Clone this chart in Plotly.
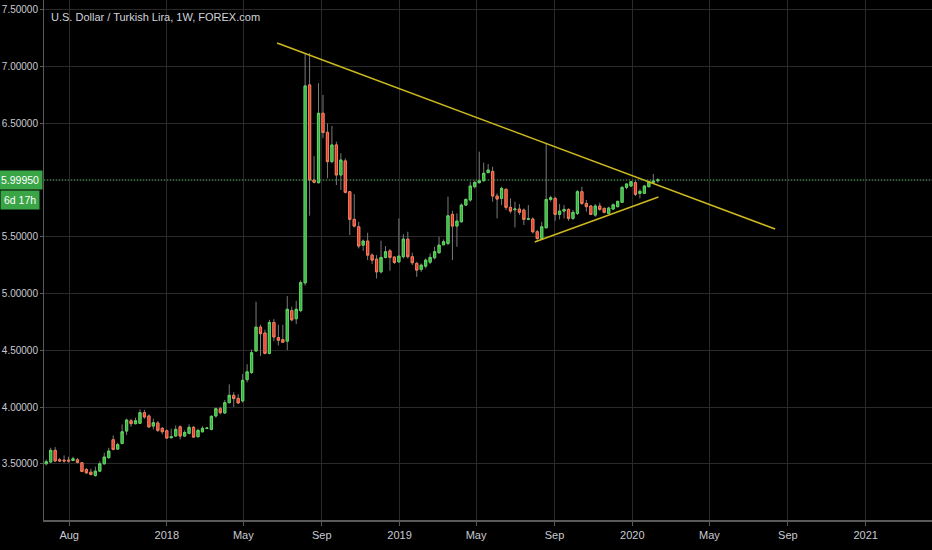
import plotly.graph_objects as go
import pandas as pd

title_text = "U.S. Dollar / Turkish Lira, 1W, FOREX.com"
first_week = "2017-06-26"

opens = [3.500, 3.515, 3.618, 3.535, 3.532, 3.532, 3.529, 3.535, 3.509, 3.450,
         3.426, 3.397, 3.435, 3.500, 3.553, 3.712, 3.629, 3.679, 3.788, 3.879,
         3.853, 3.856, 3.950, 3.921, 3.832, 3.859, 3.812, 3.791, 3.729, 3.744,
         3.826, 3.744, 3.768, 3.821, 3.738, 3.782, 3.812, 3.803, 3.921, 3.985,
         3.947, 4.038, 4.103, 4.076, 4.053, 4.241, 4.304, 4.493, 4.704, 4.652,
         4.472, 4.745, 4.612, 4.594, 4.580, 4.849, 4.777, 4.849, 5.093, 6.838,
         6.000, 5.976, 6.588, 6.420, 6.162, 6.309, 6.044, 6.168, 5.897, 5.653,
         5.588, 5.426, 5.462, 5.338, 5.303, 5.191, 5.318, 5.376, 5.321, 5.279,
         5.324, 5.479, 5.324, 5.265, 5.212, 5.241, 5.276, 5.315, 5.359, 5.429,
         5.441, 5.697, 5.594, 5.632, 5.779, 5.824, 5.941, 5.976, 5.994, 6.065,
         6.076, 5.859, 5.838, 5.918, 5.759, 5.738, 5.744, 5.735, 5.654, 5.656,
         5.544, 5.485, 5.579, 5.829, 5.838, 5.697, 5.726, 5.741, 5.662, 5.706,
         5.897, 5.794, 5.771, 5.691, 5.771, 5.750, 5.706, 5.744, 5.765, 5.803,
         5.935, 5.947, 5.976, 5.882, 5.882, 5.941, 5.979, 5.994]
highs = [3.538, 3.641, 3.647, 3.553, 3.574, 3.562, 3.562, 3.550, 3.515, 3.462,
         3.456, 3.474, 3.521, 3.597, 3.641, 3.750, 3.685, 3.847, 3.897, 3.897,
         3.906, 3.979, 3.974, 3.935, 3.897, 3.876, 3.824, 3.803, 3.809, 3.838,
         3.838, 3.794, 3.847, 3.832, 3.809, 3.832, 3.818, 3.926, 3.994, 4.003,
         4.062, 4.200, 4.130, 4.113, 4.290, 4.377, 4.507, 4.928, 4.725, 4.681,
         4.768, 4.774, 4.725, 4.725, 4.977, 4.884, 4.936, 5.116, 7.118, 7.118,
         6.210, 6.853, 6.750, 6.500, 6.476, 6.338, 6.235, 6.191, 5.897, 5.876,
         5.632, 5.476, 5.535, 5.353, 5.338, 5.465, 5.418, 5.391, 5.329, 5.662,
         5.524, 5.544, 5.359, 5.279, 5.265, 5.309, 5.353, 5.412, 5.500, 5.476,
         5.853, 5.729, 5.706, 5.794, 5.838, 5.985, 5.994, 6.250, 6.153, 6.141,
         6.118, 5.882, 5.941, 5.926, 5.838, 5.809, 5.788, 5.750, 5.779, 5.671,
         5.559, 5.632, 6.324, 5.862, 5.853, 5.788, 5.779, 5.750, 5.735, 5.912,
         5.941, 5.824, 5.779, 5.788, 5.800, 5.759, 5.765, 5.794, 5.818, 5.947,
         5.971, 5.991, 5.994, 5.918, 5.956, 5.994, 6.053, 6.015]
lows = [3.485, 3.509, 3.515, 3.515, 3.509, 3.509, 3.521, 3.503, 3.426, 3.412,
        3.397, 3.385, 3.426, 3.491, 3.547, 3.618, 3.621, 3.671, 3.753, 3.826,
        3.847, 3.850, 3.897, 3.818, 3.803, 3.779, 3.759, 3.721, 3.724, 3.738,
        3.715, 3.735, 3.759, 3.729, 3.732, 3.774, 3.803, 3.794, 3.906, 3.935,
        3.941, 4.032, 4.000, 4.030, 4.040, 4.217, 4.290, 4.493, 4.449, 4.464,
        4.464, 4.580, 4.542, 4.565, 4.501, 4.754, 4.730, 4.835, 5.070, 5.685,
        5.970, 5.970, 6.368, 6.015, 6.147, 5.956, 5.912, 5.882, 5.515, 5.582,
        5.397, 5.376, 5.294, 5.259, 5.132, 5.176, 5.309, 5.200, 5.259, 5.271,
        5.309, 5.309, 5.250, 5.147, 5.191, 5.221, 5.259, 5.300, 5.353, 5.426,
        5.426, 5.294, 5.412, 5.624, 5.771, 5.809, 5.926, 5.970, 5.985, 6.059,
        5.809, 5.662, 5.779, 5.735, 5.706, 5.582, 5.691, 5.603, 5.647, 5.529,
        5.456, 5.471, 5.574, 5.809, 5.641, 5.653, 5.662, 5.641, 5.647, 5.691,
        5.779, 5.721, 5.691, 5.676, 5.729, 5.706, 5.700, 5.735, 5.759, 5.800,
        5.918, 5.941, 5.859, 5.838, 5.876, 5.935, 5.971, 5.976]
closes = [3.518, 3.618, 3.524, 3.524, 3.524, 3.524, 3.544, 3.512, 3.432, 3.420,
          3.406, 3.435, 3.500, 3.559, 3.612, 3.626, 3.668, 3.782, 3.885, 3.853,
          3.879, 3.950, 3.912, 3.824, 3.862, 3.794, 3.782, 3.726, 3.738, 3.803,
          3.744, 3.776, 3.821, 3.735, 3.794, 3.812, 3.815, 3.918, 3.985, 3.950,
          4.038, 4.103, 4.074, 4.035, 4.235, 4.310, 4.478, 4.704, 4.646, 4.472,
          4.745, 4.617, 4.588, 4.571, 4.861, 4.768, 4.861, 5.096, 6.829, 6.000,
          5.980, 6.588, 6.418, 6.162, 6.309, 6.044, 6.176, 5.891, 5.653, 5.594,
          5.418, 5.462, 5.338, 5.294, 5.191, 5.318, 5.368, 5.318, 5.274, 5.329,
          5.479, 5.324, 5.271, 5.206, 5.250, 5.294, 5.318, 5.368, 5.426, 5.456,
          5.685, 5.594, 5.638, 5.779, 5.829, 5.947, 5.979, 5.994, 6.059, 6.088,
          5.859, 5.832, 5.926, 5.759, 5.726, 5.744, 5.715, 5.653, 5.658, 5.544,
          5.485, 5.588, 5.829, 5.844, 5.697, 5.726, 5.741, 5.662, 5.715, 5.897,
          5.794, 5.765, 5.697, 5.771, 5.741, 5.715, 5.753, 5.782, 5.812, 5.935,
          5.965, 5.985, 5.874, 5.900, 5.947, 5.985, 5.991, 5.9995]

# drawn trend lines (date, price)
upper_line_dates = ["2018-06-23", "2020-08-12"]
upper_line_prices = [7.207, 5.568]
lower_line_dates = ["2019-08-01", "2020-02-11"]
lower_line_prices = [5.454, 5.850]

y_tick_vals = [3.5, 4.0, 4.5, 5.0, 5.5, 6.5, 7.0, 7.5]
x_tick_vals = ["2017-08-01", "2018-01-01", "2018-05-01", "2018-09-01", "2019-01-01",
               "2019-05-01", "2019-09-01", "2020-01-01", "2020-05-01", "2020-09-01",
               "2021-01-01"]
x_tick_text = ["Aug", "2018", "May", "Sep", "2019", "May", "Sep", "2020", "May", "Sep", "2021"]
countdown_text = "6d 17h"

dates = pd.date_range(first_week, periods=len(closes), freq="7D")
body_top = [max(o, c) for o, c in zip(opens, closes)]
body_bot = [min(o, c) for o, c in zip(opens, closes)]

UP_FILL, UP_LINE = "#38ad45", "#5ad85a"
DN_FILL, DN_LINE = "#e53a2e", "#f57b55"
WICK = "#7a7a7a"
GRID = "#2a2a2a"
FONT = "Liberation Sans, Arial, sans-serif"
TXT = "#c8cad0"

fig = go.Figure()
# wicks
fig.add_trace(go.Candlestick(
    x=dates, open=opens, high=highs, low=lows, close=closes,
    increasing=dict(line=dict(color=WICK, width=1), fillcolor=WICK),
    decreasing=dict(line=dict(color=WICK, width=1), fillcolor=WICK),
    whiskerwidth=0, showlegend=False, hoverinfo="skip"))
# bodies
fig.add_trace(go.Candlestick(
    x=dates, open=opens, high=body_top, low=body_bot, close=closes,
    increasing=dict(line=dict(color=UP_LINE, width=1), fillcolor=UP_FILL),
    decreasing=dict(line=dict(color=DN_LINE, width=1), fillcolor=DN_FILL),
    whiskerwidth=0, showlegend=False))

for xs, ys in [(upper_line_dates, upper_line_prices), (lower_line_dates, lower_line_prices)]:
    fig.add_trace(go.Scatter(x=xs, y=ys, mode="lines",
                             line=dict(color="#cdb91e", width=1.6),
                             showlegend=False, hoverinfo="skip"))

last = closes[-1]
fig.add_shape(type="line", xref="paper", x0=0, x1=1, y0=last, y1=last,
              line=dict(color="#3cb44a", width=1, dash="1px,2px"), layer="above")

fig.add_annotation(xref="paper", x=0, y=last, xanchor="right", yanchor="middle",
                   text=f"{last:.5f}", showarrow=False, bgcolor="#3aa547",
                   font=dict(color="#ffffff", size=10.5, family=FONT),
                   borderpad=3, xshift=-1)
fig.add_annotation(xref="paper", x=0, y=last, xanchor="left", yanchor="middle",
                   text=countdown_text, showarrow=False, bgcolor="#3aa547",
                   font=dict(color="#ffffff", size=10.5, family=FONT),
                   borderpad=3, xshift=-44, yshift=-20)
fig.add_annotation(xref="paper", yref="paper", x=0, y=1, xanchor="left", yanchor="top",
                   text=title_text, showarrow=False, xshift=5, yshift=-9,
                   font=dict(color="#d1d4dc", size=11, family=FONT))

fig.update_layout(
    width=932, height=550,
    margin=dict(l=44, r=0, t=0, b=30),
    paper_bgcolor="#000000", plot_bgcolor="#000000",
    font=dict(family=FONT, color=TXT, size=11),
    boxgap=0.3,
    xaxis=dict(range=["2017-06-22 12:00", "2021-04-15"], rangeslider=dict(visible=False),
               tickvals=x_tick_vals, ticktext=x_tick_text, showgrid=True,
               gridcolor=GRID, gridwidth=1, showline=True, linecolor="#5a5a5a",
               linewidth=2, ticks="outside", ticklen=4, tickcolor="#5a5a5a",
               zeroline=False, automargin=False, tickfont=dict(size=11, color=TXT)),
    yaxis=dict(range=[3.0044, 7.586], tickvals=y_tick_vals, tickformat=".5f",
               showgrid=True, gridcolor=GRID, gridwidth=1, showline=True,
               linecolor="#5a5a5a", linewidth=1, ticks="outside", ticklen=3,
               tickcolor="#5a5a5a", zeroline=False, side="left", automargin=False,
               tickfont=dict(size=10, color=TXT)),
)
# 6.0 grid line (its label is covered by the price box in the reference)
fig.add_hline(y=6.0, line=dict(color=GRID, width=1), layer="below")

fig.write_html("out.html", config={"displayModeBar": False},
               post_script="document.body.style.margin='0';document.body.style.overflow='hidden';")
